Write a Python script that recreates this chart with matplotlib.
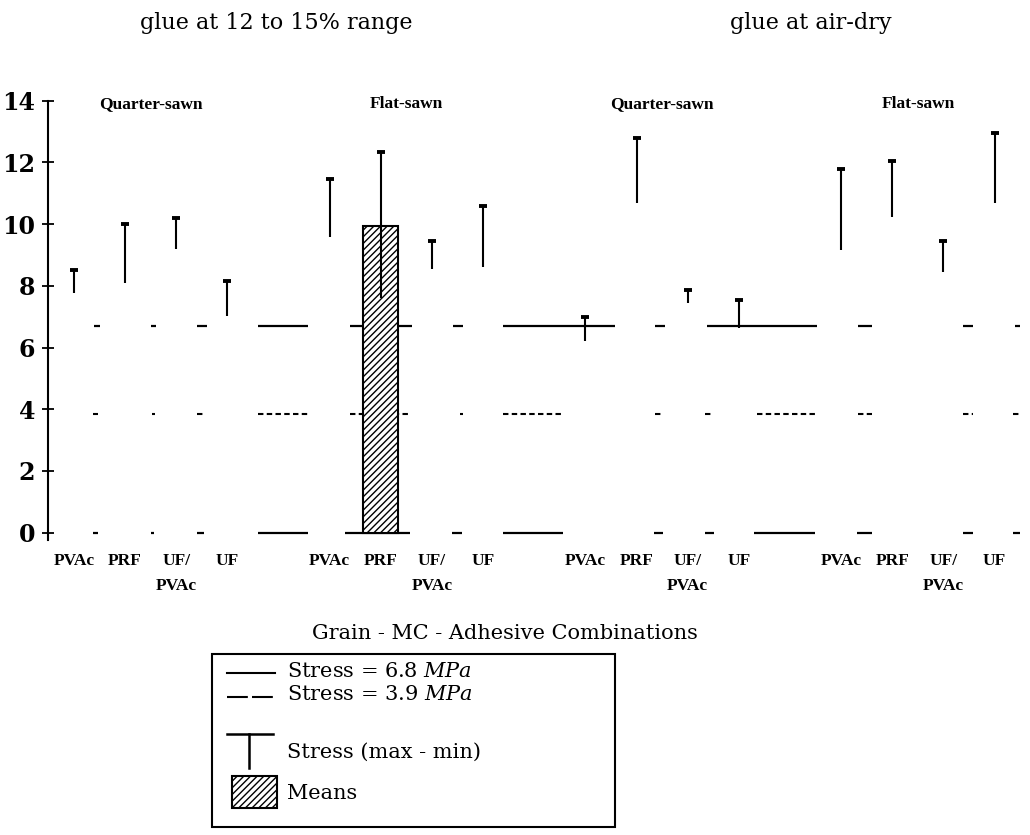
import matplotlib
matplotlib.use("Agg")
import matplotlib.pyplot as plt
from matplotlib.patches import Rectangle
from matplotlib.lines import Line2D
import matplotlib.transforms as mtransforms
import numpy as np

plt.rcParams['mathtext.fontset'] = 'custom'
plt.rcParams['mathtext.rm'] = 'DejaVu Serif'
plt.rcParams['mathtext.it'] = 'DejaVu Serif:italic'
plt.rcParams['hatch.linewidth'] = 1.0

# ---------------- data ----------------
moisture_titles = ["glue at 12 to 15% range", "glue at air-dry"]
grain_groups = ["Quarter-sawn", "Flat-sawn", "Quarter-sawn", "Flat-sawn"]
adhesives = ["PVAc", "PRF", "UF/\nPVAc", "UF"]

# stress range (max - min), MPa, 16 grain-MC-adhesive combinations
stress_max = [8.5, 10.0, 10.2, 8.15,
              11.45, 12.35, 9.45, 10.6,
              7.0, 12.8, 7.85, 7.55,
              11.8, 12.05, 9.45, 12.95]
stress_min = [7.78, 8.08, 9.18, 7.02,
              9.58, 7.6, 8.54, 8.62,
              6.22, 10.67, 7.45, 6.62,
              9.16, 10.22, 8.44, 10.69]
# means (only one drawn in the original)
stress_mean = [np.nan, np.nan, np.nan, np.nan,
               np.nan, 9.94, np.nan, np.nan,
               np.nan, np.nan, np.nan, np.nan,
               np.nan, np.nan, np.nan, np.nan]

# reference stress levels (as drawn) and legend values
level_high = 6.7
level_low = 3.85
level_zero = 0.0
legend_high = "6.8"
legend_low = "3.9"

# visible pieces of the reference lines (category-index units, as scanned)
seg_high = [(0.4, 0.51), (1.5, 1.6), (2.4, 2.6), (3.6, 4.58), (5.4, 6.6),
            (7.41, 7.6), (8.39, 10.58), (11.36, 11.55), (12.38, 14.52),
            (15.33, 15.6), (17.38, 17.58), (18.4, 18.5)]
seg_low = [(0.37, 0.47), (1.52, 1.58), (2.4, 2.52), (3.6, 4.58), (5.4, 6.57),
           (7.55, 7.6), (8.39, 9.56), (11.36, 11.5), (12.34, 12.5),
           (13.35, 14.49), (15.33, 15.6), (17.38, 17.58), (18.36, 18.5)]
seg_zero = [(0.37, 0.47), (1.5, 1.56), (2.4, 2.55), (3.6, 4.58), (5.3, 6.57),
            (7.4, 7.58), (8.39, 9.56), (11.35, 11.52), (12.34, 12.52),
            (13.3, 14.49), (15.3, 15.6), (17.38, 17.58), (18.36, 18.5)]

# ---------------- layout ----------------
W, H = 1030, 835
fig = plt.figure(figsize=(W / 100, H / 100), dpi=100)

def fx(p):
    return p / W

def fy(p):
    return 1 - p / H

ax = fig.add_axes([fx(48.4), fy(540.4), (1025.3 - 48.4) / W, (540.4 - 100.7) / H])

n_per = len(adhesives)
positions = np.array([g * (n_per + 1) + i for g in range(len(grain_groups)) for i in range(n_per)], dtype=float)

# reference lines
for (a, b) in seg_high:
    ax.hlines(level_high, a, b, colors='black', lw=1.6)
for (a, b) in seg_low:
    ax.hlines(level_low, a, b, colors='black', lw=1.5, linestyles=(0, (2.6, 1.6)))
for (a, b) in seg_zero:
    ax.hlines(level_zero, a, b, colors='black', lw=1.6)

# means bars
means = np.array(stress_mean)
mask = ~np.isnan(means)
ax.bar(positions[mask], means[mask], width=0.68, color='white', edgecolor='black',
       hatch='/////', linewidth=1.5, zorder=2)

# T-shaped stress ranges
ax.vlines(positions, stress_min, stress_max, colors='black', lw=1.5, zorder=3)
ax.plot(positions, stress_max, linestyle='none', marker='_', markersize=6,
        markeredgewidth=2.8, color='black', zorder=3)

ax.set_xlim(-0.5, 18.6)
ax.set_ylim(-0.25, 14)
ax.set_yticks(np.arange(0, 15, 2))
ax.set_xticks(positions)
ax.set_xticklabels(adhesives * len(grain_groups))

for s in ['top', 'right', 'bottom']:
    ax.spines[s].set_visible(False)
ax.spines['left'].set_linewidth(1.5)
ax.tick_params(axis='y', direction='inout', length=9, width=1.3, pad=5)
ax.tick_params(axis='x', length=0, pad=9)
for lab in ax.get_yticklabels():
    lab.set_fontfamily('DejaVu Serif')
    lab.set_fontweight('bold')
    lab.set_fontsize(17)
for lab in ax.get_xticklabels():
    lab.set_fontfamily('Liberation Serif')
    lab.set_fontweight('bold')
    lab.set_fontsize(12.5)
    lab.set_linespacing(1.75)

# grain group headings
for g, name in enumerate(grain_groups):
    cx = positions[g * n_per:(g + 1) * n_per].mean()
    ax.text(cx, 13.75, name, ha='center', va='baseline', fontsize=12.5,
            family='Liberation Serif', fontweight='bold')

# moisture titles (data x, figure y)
blend = mtransforms.blended_transform_factory(ax.transData, fig.transFigure)
title_x = [3.95, 14.4]
for t, xx in zip(moisture_titles, title_x):
    ax.text(xx, fy(29), t, transform=blend, ha='center', va='baseline',
            fontsize=16, family='DejaVu Serif')

# x axis label
fig.text(fx(505), fy(639), "Grain - MC - Adhesive Combinations", ha='center',
         va='baseline', fontsize=15, family='DejaVu Serif')

# ---------------- legend ----------------
T = fig.transFigure
fig.add_artist(Rectangle((fx(212), fy(827)), fx(615) - fx(212), fy(654) - fy(827),
                         transform=T, fill=False, edgecolor='black', lw=1.5))
fig.add_artist(Line2D([fx(227), fx(275)], [fy(673), fy(673)], transform=T,
                      color='black', lw=1.5))
fig.add_artist(Line2D([fx(227), fx(277)], [fy(697), fy(697)], transform=T,
                      color='black', lw=1.5, linestyle=(0, (10, 2))))
fig.add_artist(Line2D([fx(227), fx(273)], [fy(734), fy(734)], transform=T,
                      color='black', lw=1.8))
fig.add_artist(Line2D([fx(249), fx(249)], [fy(734), fy(768)], transform=T,
                      color='black', lw=1.8))
fig.add_artist(Rectangle((fx(232), fy(808)), fx(277) - fx(232), fy(776) - fy(808),
                         transform=T, facecolor='white', edgecolor='black',
                         hatch='/////', lw=1.5))
leg_kw = dict(ha='left', va='baseline', fontsize=15, family='DejaVu Serif')
fig.text(fx(287), fy(677), r"Stress = " + legend_high + r" $\mathit{MPa}$", **leg_kw)
fig.text(fx(287), fy(700), r"Stress = " + legend_low + r" $\mathit{MPa}$", **leg_kw)
fig.text(fx(287), fy(758), "Stress (max - min)", **leg_kw)
fig.text(fx(287), fy(799), "Means", **leg_kw)

fig.savefig("out.png", dpi=100)
